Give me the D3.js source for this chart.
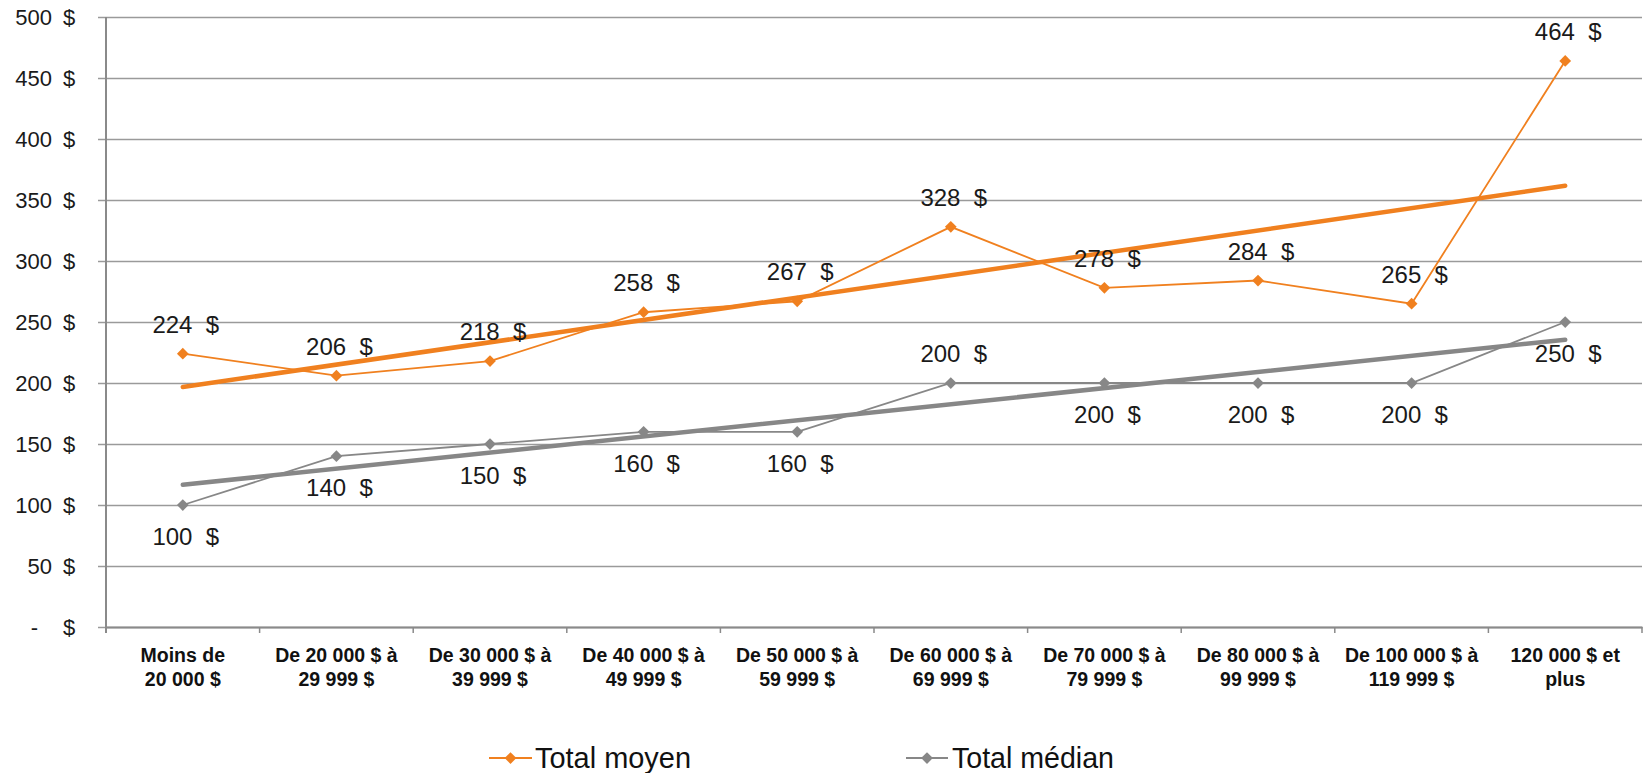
<!DOCTYPE html>
<html><head><meta charset="utf-8">
<script src="https://cdn.jsdelivr.net/npm/d3@7/dist/d3.min.js"></script>
<style>body{margin:0;background:#fff}svg{display:block}text{font-family:"Liberation Sans",Arial,sans-serif}</style>
</head><body>
<svg id="c" width="1649" height="773"></svg>
<script>
const categories = [
  ["Moins de","20 000 $"],
  ["De 20 000 $ à","29 999 $"],
  ["De 30 000 $ à","39 999 $"],
  ["De 40 000 $ à","49 999 $"],
  ["De 50 000 $ à","59 999 $"],
  ["De 60 000 $ à","69 999 $"],
  ["De 70 000 $ à","79 999 $"],
  ["De 80 000 $ à","99 999 $"],
  ["De 100 000 $ à","119 999 $"],
  ["120 000 $ et","plus"]
];
const totalMoyen = [224,206,218,258,267,328,278,284,265,464];
const totalMedian = [100,140,150,160,160,200,200,200,200,250];
const medianLabelAbove = [false,false,false,false,false,true,false,false,false,false];
const yTicks = [0,50,100,150,200,250,300,350,400,450,500];
const seriesNames = ["Total moyen","Total médian"];
const colors = ["#F0801F","#878787"];

(function(){
const svg = d3.select("#c");
const pL = 106, pR = 1642, pT = 17, pB = 627;
const x = d3.scaleBand().domain(d3.range(categories.length)).range([pL,pR]);
const y = d3.scaleLinear().domain([0,500]).range([pB,pT]);
const cx = i => x(i) + x.bandwidth()/2;

// gridlines
const yAxis = d3.axisLeft(y).tickValues(yTicks).tickSize(-(pR-pL)).tickFormat("");
const gy = svg.append("g").attr("transform",`translate(${pL},0)`).call(yAxis);
gy.select(".domain").remove();
gy.selectAll(".tick line").attr("stroke","#9a9a9a").attr("stroke-width",1.4).attr("x1",-8);
// tick labels
const tl = svg.append("g");
yTicks.forEach(v=>{
  tl.append("text").attr("x",52).attr("y",y(v)+8).attr("text-anchor","end")
    .attr("font-size",22).attr("fill","#1a1a1a").text(v===0?"-":String(v))
    .attr("dx", v===0?-14:0);
  tl.append("text").attr("x",63).attr("y",y(v)+8)
    .attr("font-size",22).attr("fill","#1a1a1a").text("$");
});
// y axis line
svg.append("line").attr("x1",pL).attr("x2",pL).attr("y1",pT).attr("y2",pB+6)
  .attr("stroke","#8a8a8a").attr("stroke-width",2);
// x axis
const xAxis = d3.axisBottom(x).tickSize(0).tickFormat("");
const gx = svg.append("g").attr("transform",`translate(0,${pB})`).call(xAxis);
gx.select(".domain").attr("stroke","#8a8a8a").attr("stroke-width",2.2);
d3.range(categories.length+1).forEach(i=>{
  const xx = i<categories.length ? x(i) : pR;
  svg.append("line").attr("x1",xx).attr("x2",xx).attr("y1",pB).attr("y2",pB+6)
    .attr("stroke","#8a8a8a").attr("stroke-width",1.5);
});
const xl = svg.append("g");
categories.forEach((c,i)=>{
  const t = xl.append("text").attr("x",cx(i)).attr("y",662).attr("text-anchor","middle")
    .attr("font-size",19.5).attr("font-weight","bold").attr("fill","#111");
  t.append("tspan").attr("x",cx(i)).text(c[0]);
  t.append("tspan").attr("x",cx(i)).attr("dy",24).text(c[1]);
});

// trend lines (linear regression)
function regress(vals){
  const n=vals.length, xs=d3.range(n);
  const mx=d3.mean(xs), my=d3.mean(vals);
  const sxy=d3.sum(xs,(xx,i)=>(xx-mx)*(vals[i]-my));
  const sxx=d3.sum(xs,xx=>(xx-mx)*(xx-mx));
  const b=sxy/sxx, a=my-b*mx;
  return [a, a+b*(n-1)];
}
const diamond = d3.symbol().type(d3.symbolDiamond2).size(88);
[totalMoyen,totalMedian].forEach((vals,k)=>{
  const r = regress(vals);
  svg.append("line").attr("x1",cx(0)).attr("y1",y(r[0])).attr("x2",cx(vals.length-1)).attr("y2",y(r[1]))
    .attr("stroke",colors[k]).attr("stroke-width",4.5).attr("stroke-linecap","round");
});
[totalMoyen,totalMedian].forEach((vals,k)=>{
  const line = d3.line().x((d,i)=>cx(i)).y(d=>y(d));
  svg.append("path").attr("d",line(vals)).attr("fill","none").attr("stroke",colors[k]).attr("stroke-width",1.8);
  svg.append("g").selectAll("path").data(vals).join("path")
    .attr("transform",(d,i)=>`translate(${cx(i)},${y(d)})`).attr("d",diamond).attr("fill",colors[k]);
});
// data labels
const dl = svg.append("g");
totalMoyen.forEach((v,i)=>{
  dl.append("text").attr("x",cx(i)+3).attr("y",y(v)-21).attr("text-anchor","middle")
    .attr("font-size",24).attr("fill","#1a1a1a").attr("xml:space","preserve").text(v+"  $");
});
totalMedian.forEach((v,i)=>{
  dl.append("text").attr("x",cx(i)+3).attr("y",medianLabelAbove[i]? y(v)-21 : y(v)+40).attr("text-anchor","middle")
    .attr("font-size",24).attr("fill","#1a1a1a").attr("xml:space","preserve").text(v+"  $");
});

// legend
const leg = [{x0:489,x1:532,tx:535,tw:156},{x0:906,x1:948,tx:952,tw:162}];
leg.forEach((l,k)=>{
  svg.append("line").attr("x1",l.x0).attr("x2",l.x1).attr("y1",758).attr("y2",758)
    .attr("stroke",colors[k]).attr("stroke-width",2);
  svg.append("path").attr("transform",`translate(${(l.x0+l.x1)/2},758)`).attr("d",diamond).attr("fill",colors[k]);
  svg.append("text").attr("x",l.tx).attr("y",768).attr("font-size",29).attr("fill","#111")
    .attr("textLength",l.tw).attr("lengthAdjust","spacingAndGlyphs").text(seriesNames[k]);
});
})();
</script>
</body></html>
